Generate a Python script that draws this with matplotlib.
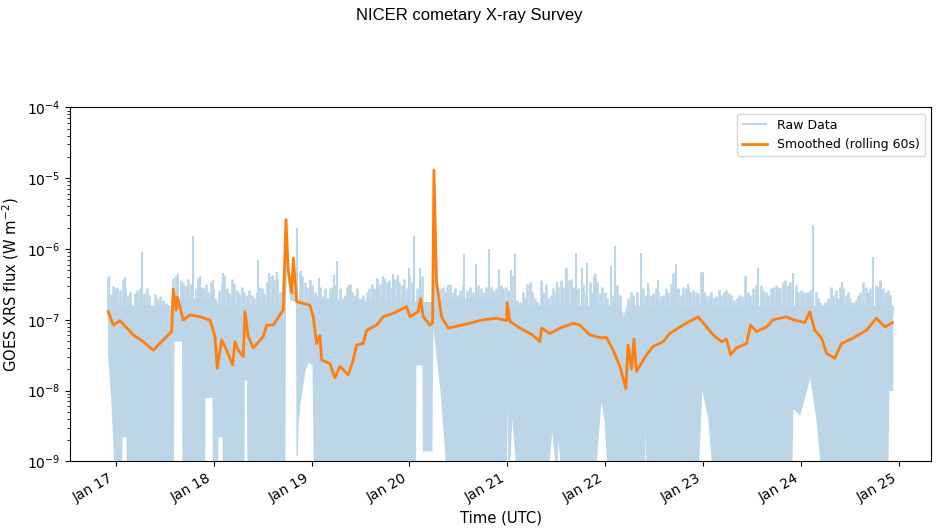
import numpy as np
import matplotlib
matplotlib.use("Agg")
import matplotlib.pyplot as plt
import matplotlib.dates as mdates

# times are in days after 2025-01-17 00:00 UTC
start = np.datetime64("2025-01-17T00:00:00")

# smoothed (rolling 60s) curve
smooth_t = [-0.076, -0.025, 0.044, 0.180, 0.282, 0.384, 0.435, 0.521, 0.572, 0.588,
            0.616, 0.629, 0.690, 0.759, 0.861, 0.963, 1.014, 1.037, 1.082, 1.133,
            1.194, 1.218, 1.252, 1.303, 1.320, 1.354, 1.405, 1.507, 1.542, 1.609,
            1.677, 1.711, 1.739, 1.762, 1.797, 1.815, 1.848, 1.915, 1.984, 2.017,
            2.052, 2.086, 2.103, 2.188, 2.239, 2.290, 2.375, 2.426, 2.460, 2.528,
            2.563, 2.665, 2.732, 2.834, 2.971, 3.005, 3.089, 3.114, 3.140, 3.209,
            3.236, 3.250, 3.277, 3.328, 3.396, 3.583, 3.753, 3.890, 3.992, 3.998,
            4.025, 4.128, 4.257, 4.332, 4.349, 4.434, 4.536, 4.672, 4.740, 4.842,
            4.944, 5.013, 5.080, 5.149, 5.210, 5.233, 5.268, 5.292, 5.319, 5.421,
            5.489, 5.591, 5.659, 5.761, 5.863, 5.948, 6.034, 6.101, 6.187, 6.238,
            6.279, 6.340, 6.442, 6.483, 6.544, 6.646, 6.714, 6.850, 6.918, 7.037,
            7.088, 7.139, 7.208, 7.259, 7.343, 7.412, 7.530, 7.667, 7.769, 7.854,
            7.933]
smooth_v = [1.30e-7, 8.4e-8, 9.7e-8, 6.1e-8, 4.9e-8, 3.7e-8, 4.4e-8, 5.8e-8, 6.8e-8, 2.7e-7,
            1.37e-7, 2.1e-7, 9.9e-8, 1.17e-7, 1.10e-7, 9.9e-8, 5.8e-8, 2.06e-8, 5.2e-8, 3.7e-8,
            2.3e-8, 4.9e-8, 3.7e-8, 3.0e-8, 1.3e-7, 5.8e-8, 4.0e-8, 5.8e-8, 8.4e-8, 8.4e-8,
            1.17e-7, 1.37e-7, 2.6e-6, 5.0e-7, 2.4e-7, 7.4e-7, 1.8e-7, 1.7e-7, 1.6e-7, 1.1e-7,
            4.6e-8, 6.0e-8, 2.7e-8, 2.4e-8, 1.5e-8, 2.2e-8, 1.66e-8, 2.7e-8, 4.4e-8, 4.6e-8,
            7.1e-8, 8.4e-8, 1.1e-7, 1.23e-7, 1.53e-7, 1.1e-7, 1.3e-7, 2.0e-7, 1.1e-7, 8.4e-8,
            9.0e-8, 1.3e-5, 3.3e-7, 1.1e-7, 7.6e-8, 8.7e-8, 1.0e-7, 1.05e-7, 9.7e-8, 1.76e-7,
            9.5e-8, 7.6e-8, 6.1e-8, 4.9e-8, 7.6e-8, 6.4e-8, 7.6e-8, 8.9e-8, 8.4e-8, 6.1e-8,
            5.6e-8, 5.6e-8, 3.7e-8, 2.2e-8, 1.07e-8, 4.4e-8, 2.0e-8, 5.3e-8, 1.86e-8, 3.2e-8,
            4.2e-8, 4.9e-8, 6.4e-8, 7.9e-8, 9.5e-8, 1.1e-7, 7.9e-8, 6.1e-8, 4.9e-8, 5.3e-8,
            3.2e-8, 4.0e-8, 4.6e-8, 8.4e-8, 6.8e-8, 7.9e-8, 1.0e-7, 1.1e-7, 1.0e-7, 9.1e-8,
            1.3e-7, 7.1e-8, 5.5e-8, 3.35e-8, 2.85e-8, 4.6e-8, 5.5e-8, 7.1e-8, 1.05e-7, 7.9e-8,
            9.1e-8]

# raw data: top of the solid part of the band
raw_hi_t = [-0.084, 0.575, 0.590, 1.024, 1.044, 1.708, 1.739, 1.762, 1.800, 1.841,
            3.239, 3.250, 3.277, 3.321, 4.008, 4.020, 5.150, 5.183, 5.215, 7.900,
            7.936]
raw_hi_v = [1.6e-7, 1.6e-7, 2.0e-7, 2.0e-7, 1.6e-7, 1.7e-7, 2.6e-6, 5.5e-7, 3.0e-7, 2.0e-7,
            1.8e-7, 1.3e-5, 4.0e-7, 2.0e-7, 2.0e-7, 1.6e-7, 1.6e-7, 1.1e-7, 1.6e-7, 1.6e-7,
            1.5e-7]

# raw data: bottom of the band where it lifts above the axis floor
raw_lo_t = [-0.084, -0.048, -0.012,
            0.059, 0.064, 0.105, 0.110,
            0.590, 0.595, 0.672, 0.677,
            0.907, 0.912, 0.983, 0.988,
            1.039, 1.044, 1.085, 1.090,
            1.310, 1.315, 1.335, 1.340,
            1.728, 1.733, 1.743, 1.779, 1.836, 1.841, 1.856, 1.861, 1.882, 1.933, 1.964, 2.005, 2.019,
            3.061, 3.066, 3.127, 3.132, 3.229, 3.239, 3.311, 3.382,
            3.990, 3.995, 4.005, 4.015, 4.046, 4.097,
            4.403, 4.454, 4.505, 4.515, 4.556,
            4.893, 4.955, 4.985, 5.026,
            5.399, 5.404, 5.414,
            5.945, 5.986, 6.047, 6.098,
            6.905, 6.915, 6.986, 7.088, 7.150, 7.211,
            7.885, 7.895, 7.946]
raw_lo_v = [3.4e-8, 6.7e-9, 5e-10,
            5e-10, 2.2e-9, 2.2e-9, 5e-10,
            5e-10, 5.0e-8, 5.0e-8, 5e-10,
            5e-10, 8e-9, 8e-9, 5e-10,
            5e-10, 2.2e-9, 2.2e-9, 5e-10,
            5e-10, 1.4e-8, 1.4e-8, 5e-10,
            5e-10, 1.5e-7, 5e-7, 1.9e-7, 1.8e-7, 1.2e-9, 1.2e-9, 3e-9, 6.6e-9, 1.9e-8, 2.5e-8, 2.3e-8, 5e-10,
            5e-10, 2.3e-8, 2.3e-8, 1.4e-9, 1.4e-9, 8e-8, 1e-8, 5e-10,
            5e-10, 7.8e-9, 5e-10, 5e-10, 4e-9, 5e-10,
            5e-10, 2.6e-9, 5e-10, 2.0e-9, 5e-10,
            5e-10, 7e-9, 4e-9, 5e-10,
            5e-10, 2.8e-9, 5e-10,
            5e-10, 1.0e-8, 4e-9, 5e-10,
            5e-10, 5.5e-9, 4.5e-9, 1.5e-8, 4e-9, 5e-10,
            5e-10, 1e-8, 1e-8]

# dense short needles on top of the band
needle_t = [-0.075, -0.048, -0.031, -0.007, 0.017, 0.044, 0.071, 0.095, 0.122, 0.146,
            0.170, 0.197, 0.221, 0.248, 0.289, 0.316, 0.343, 0.367, 0.401, 0.425,
            0.452, 0.486, 0.513, 0.537, 0.571, 0.588, 0.615, 0.667, 0.690, 0.717,
            0.741, 0.765, 0.816, 0.843, 0.867, 0.895, 0.922, 0.946, 0.973, 0.997,
            1.031, 1.055, 1.082, 1.106, 1.133, 1.160, 1.184, 1.208, 1.235, 1.262,
            1.286, 1.310, 1.337, 1.364, 1.388, 1.412, 1.439, 1.466, 1.490, 1.514,
            1.541, 1.565, 1.592, 1.616, 1.643, 1.677, 1.704, 1.881, 1.905, 1.932,
            1.956, 1.984, 2.007, 2.035, 2.058, 2.086, 2.113, 2.137, 2.160, 2.188,
            2.211, 2.239, 2.290, 2.317, 2.341, 2.365, 2.392, 2.416, 2.443, 2.467,
            2.494, 2.528, 2.562, 2.589, 2.613, 2.637, 2.664, 2.691, 2.715, 2.739,
            2.766, 2.793, 2.817, 2.841, 2.868, 2.892, 2.919, 2.943, 2.970, 2.998,
            3.021, 3.073, 3.100, 3.124, 3.311, 3.338, 3.362, 3.386, 3.413, 3.440,
            3.464, 3.488, 3.515, 3.542, 3.590, 3.617, 3.644, 3.702, 3.726, 3.753,
            3.780, 3.828, 3.855, 3.883, 3.933, 3.957, 3.985, 4.008, 4.043, 4.100,
            4.128, 4.155, 4.179, 4.202, 4.230, 4.253, 4.281, 4.305, 4.339, 4.366,
            4.390, 4.417, 4.441, 4.468, 4.492, 4.519, 4.543, 4.570, 4.594, 4.621,
            4.645, 4.672, 4.723, 4.774, 4.801, 4.842, 4.869, 4.893, 4.917, 4.944,
            4.968, 4.995, 5.019, 5.074, 5.121, 5.149, 5.183, 5.210, 5.233, 5.261,
            5.285, 5.319, 5.387, 5.414, 5.438, 5.462, 5.489, 5.516, 5.540, 5.564,
            5.591, 5.615, 5.642, 5.669, 5.693, 5.744, 5.768, 5.795, 5.822, 5.846,
            5.870, 5.897, 5.924, 5.948, 5.982, 6.006, 6.033, 6.060, 6.084, 6.108,
            6.135, 6.163, 6.186, 6.210, 6.237, 6.265, 6.288, 6.316, 6.340, 6.367,
            6.391, 6.431, 6.459, 6.482, 6.510, 6.537, 6.585, 6.612, 6.639, 6.663,
            6.687, 6.714, 6.741, 6.765, 6.789, 6.816, 6.840, 6.867, 6.891, 6.945,
            6.969, 6.996, 7.020, 7.047, 7.071, 7.095, 7.150, 7.173, 7.197, 7.224,
            7.248, 7.275, 7.303, 7.327, 7.354, 7.378, 7.401, 7.429, 7.456, 7.480,
            7.503, 7.531, 7.558, 7.582, 7.606, 7.633, 7.660, 7.684, 7.708, 7.762,
            7.786, 7.810, 7.837, 7.864, 7.888, 7.912, 7.932]
needle_v = [4.0e-7, 2.3e-7, 3.0e-7, 2.8e-7, 2.9e-7, 2.65e-7, 3.8e-7, 2.8e-7, 2.25e-7, 2.5e-7,
            1.6e-7, 2.4e-7, 2.6e-7, 2.8e-7, 2.4e-7, 2.8e-7, 2.25e-7, 1.6e-7, 2.3e-7, 2.0e-7,
            2.15e-7, 1.9e-7, 1.7e-7, 1.6e-7, 2.0e-7, 3.9e-7, 4.3e-7, 3.6e-7, 3.4e-7, 3.1e-7,
            3.8e-7, 3.2e-7, 2.8e-7, 3.9e-7, 2.9e-7, 2.8e-7, 3.2e-7, 2.5e-7, 3.4e-7, 2.8e-7,
            1.7e-7, 2.65e-7, 3.4e-7, 4.3e-7, 2.8e-7, 2.4e-7, 3.8e-7, 3.2e-7, 2.65e-7, 2.4e-7,
            2.9e-7, 2.5e-7, 2.25e-7, 2.65e-7, 2.25e-7, 2.0e-7, 2.5e-7, 2.9e-7, 2.8e-7, 2.4e-7,
            3.4e-7, 4.1e-7, 4.3e-7, 3.8e-7, 3.8e-7, 2.5e-7, 3.2e-7, 4.8e-7, 4.1e-7, 3.4e-7,
            2.9e-7, 3.6e-7, 3.1e-7, 2.5e-7, 2.25e-7, 2.9e-7, 2.15e-7, 2.8e-7, 2.0e-7, 2.8e-7,
            2.9e-7, 3.1e-7, 2.8e-7, 2.0e-7, 2.25e-7, 2.9e-7, 3.2e-7, 2.5e-7, 2.25e-7, 2.8e-7,
            2.0e-7, 2.25e-7, 2.5e-7, 2.8e-7, 3.2e-7, 2.8e-7, 3.8e-7, 3.2e-7, 3.4e-7, 3.9e-7,
            3.4e-7, 3.6e-7, 2.9e-7, 3.8e-7, 3.9e-7, 3.4e-7, 3.1e-7, 3.8e-7, 2.8e-7, 4.1e-7,
            3.4e-7, 2.8e-7, 2.5e-7, 4.1e-7, 2.8e-7, 2.9e-7, 2.5e-7, 2.9e-7, 3.2e-7, 2.5e-7,
            2.8e-7, 2.25e-7, 2.65e-7, 3.1e-7, 2.65e-7, 2.9e-7, 2.5e-7, 3.1e-7, 2.8e-7, 2.5e-7,
            2.9e-7, 2.9e-7, 2.65e-7, 2.8e-7, 3.1e-7, 2.8e-7, 2.9e-7, 2.65e-7, 4.3e-7, 1.9e-7,
            1.8e-7, 2.5e-7, 2.0e-7, 3.2e-7, 3.4e-7, 2.5e-7, 2.0e-7, 1.8e-7, 3.6e-7, 2.5e-7,
            3.2e-7, 2.0e-7, 2.25e-7, 2.8e-7, 2.5e-7, 2.9e-7, 3.6e-7, 2.9e-7, 5.6e-7, 3.6e-7,
            3.8e-7, 2.9e-7, 2.8e-7, 3.2e-7, 2.5e-7, 3.4e-7, 2.5e-7, 4.5e-7, 3.4e-7, 2.4e-7,
            2.9e-7, 2.5e-7, 2.0e-7, 2.25e-7, 3.1e-7, 2.25e-7, 1.3e-7, 1.27e-7, 2.0e-7, 2.5e-7,
            2.25e-7, 2.5e-7, 2.8e-7, 2.25e-7, 2.8e-7, 2.25e-7, 2.4e-7, 2.8e-7, 2.5e-7, 2.15e-7,
            2.25e-7, 2.8e-7, 2.5e-7, 3.2e-7, 4.5e-7, 2.8e-7, 2.25e-7, 2.9e-7, 2.8e-7, 2.9e-7,
            2.5e-7, 2.65e-7, 2.5e-7, 2.4e-7, 4.8e-7, 2.5e-7, 2.15e-7, 2.25e-7, 2.5e-7, 2.0e-7,
            2.15e-7, 2.65e-7, 2.25e-7, 2.5e-7, 2.65e-7, 2.4e-7, 2.25e-7, 1.9e-7, 2.0e-7, 2.25e-7,
            2.15e-7, 4.1e-7, 2.5e-7, 2.25e-7, 2.8e-7, 3.1e-7, 3.1e-7, 2.65e-7, 2.5e-7, 2.25e-7,
            2.8e-7, 2.9e-7, 3.1e-7, 2.9e-7, 2.8e-7, 3.4e-7, 3.6e-7, 3.1e-7, 3.4e-7, 3.1e-7,
            2.5e-7, 2.65e-7, 2.5e-7, 2.5e-7, 2.5e-7, 2.65e-7, 2.5e-7, 2.0e-7, 1.8e-7, 1.6e-7,
            1.8e-7, 2.0e-7, 2.9e-7, 2.25e-7, 2.65e-7, 2.0e-7, 2.9e-7, 2.8e-7, 2.25e-7, 2.5e-7,
            2.0e-7, 1.8e-7, 1.9e-7, 2.25e-7, 2.5e-7, 3.4e-7, 2.9e-7, 2.5e-7, 2.8e-7, 3.1e-7,
            2.9e-7, 3.6e-7, 2.8e-7, 2.5e-7, 2.65e-7, 2.25e-7, 1.6e-7]

# isolated tall spikes
spike_t = [-0.068, 0.095, 0.265, 0.639, 0.792, 0.861, 0.990, 1.099, 1.201, 1.456,
           1.568, 1.644, 1.848, 1.892, 1.984, 2.079, 2.232, 2.256, 2.385, 2.665,
           2.732, 2.828, 2.885, 2.997, 3.048, 3.107, 3.396, 3.559, 3.675, 3.814,
           3.916, 4.033, 4.077, 4.237, 4.349, 4.502, 4.594, 4.699, 4.758, 4.815,
           4.886, 5.054, 5.098, 5.360, 5.431, 5.540, 5.717, 5.846, 5.993, 6.432,
           6.560, 6.918, 7.122, 7.422, 7.734, 7.813]
spike_v = [4.2e-7, 4.0e-7, 9.1e-7, 4.6e-7, 1.5e-6, 4.1e-7, 3.6e-7, 4.5e-7, 3.2e-7, 7.0e-7,
           4.5e-7, 4.8e-7, 2.0e-6, 4.9e-7, 3.6e-7, 3.9e-7, 4.3e-7, 6.8e-7, 3.1e-7, 3.9e-7,
           4.1e-7, 4.4e-7, 4.3e-7, 5.4e-7, 1.5e-6, 5.4e-7, 3.1e-7, 8.4e-7, 6.2e-7, 1.0e-6,
           5.2e-7, 5.0e-7, 8.9e-7, 3.3e-7, 3.4e-7, 3.4e-7, 5.1e-7, 8.9e-7, 5.3e-7, 6.4e-7,
           4.1e-7, 5.8e-7, 1.1e-6, 8.7e-7, 3.3e-7, 3.6e-7, 6.2e-7, 3.2e-7, 4.7e-7, 4.2e-7,
           5.4e-7, 4.5e-7, 2.2e-6, 3.4e-7, 7.6e-7, 3.5e-7]


def to_time(days):
    secs = np.round(np.asarray(days) * 86400).astype("timedelta64[s]")
    return start + secs


raw_color = "#bcd6e8"
floor = 1e-10

fig = plt.figure(figsize=(9.39, 5.29), dpi=100)
ax = fig.add_axes([0.0745, 0.128, 0.9175, 0.669])

ax.fill_between(to_time(raw_hi_t), floor, raw_hi_v, color=raw_color, lw=0)
ax.fill_between(to_time(raw_lo_t), floor, raw_lo_v, color="white", lw=0)
ax.vlines(to_time(needle_t), 1.2e-7, needle_v, color=raw_color, lw=1.9)
ax.vlines(to_time(spike_t), 1.2e-7, spike_v, color=raw_color, lw=1.5, label="Raw Data")
ax.plot(to_time(smooth_t), smooth_v, color="C1", lw=2.0, label="Smoothed (rolling 60s)")

ax.set_yscale("log")
ax.set_ylim(1e-9, 1e-4)
ax.set_xlim(to_time(-0.467), to_time(8.331))

ax.xaxis.set_major_locator(mdates.DayLocator())
ax.xaxis.set_major_formatter(mdates.DateFormatter("%b %d"))
plt.setp(ax.get_xticklabels(), rotation=30, ha="right")

ax.set_xlabel("Time (UTC)", fontsize=10.6)
ax.set_ylabel("GOES XRS flux (W m$^{-2}$)", fontsize=10.6)
ax.legend(loc="upper right", fontsize=9)

fig.suptitle("NICER cometary X-ray Survey", fontsize=12, family="Liberation Sans", y=0.985)

fig.savefig("out.png", dpi=100)
